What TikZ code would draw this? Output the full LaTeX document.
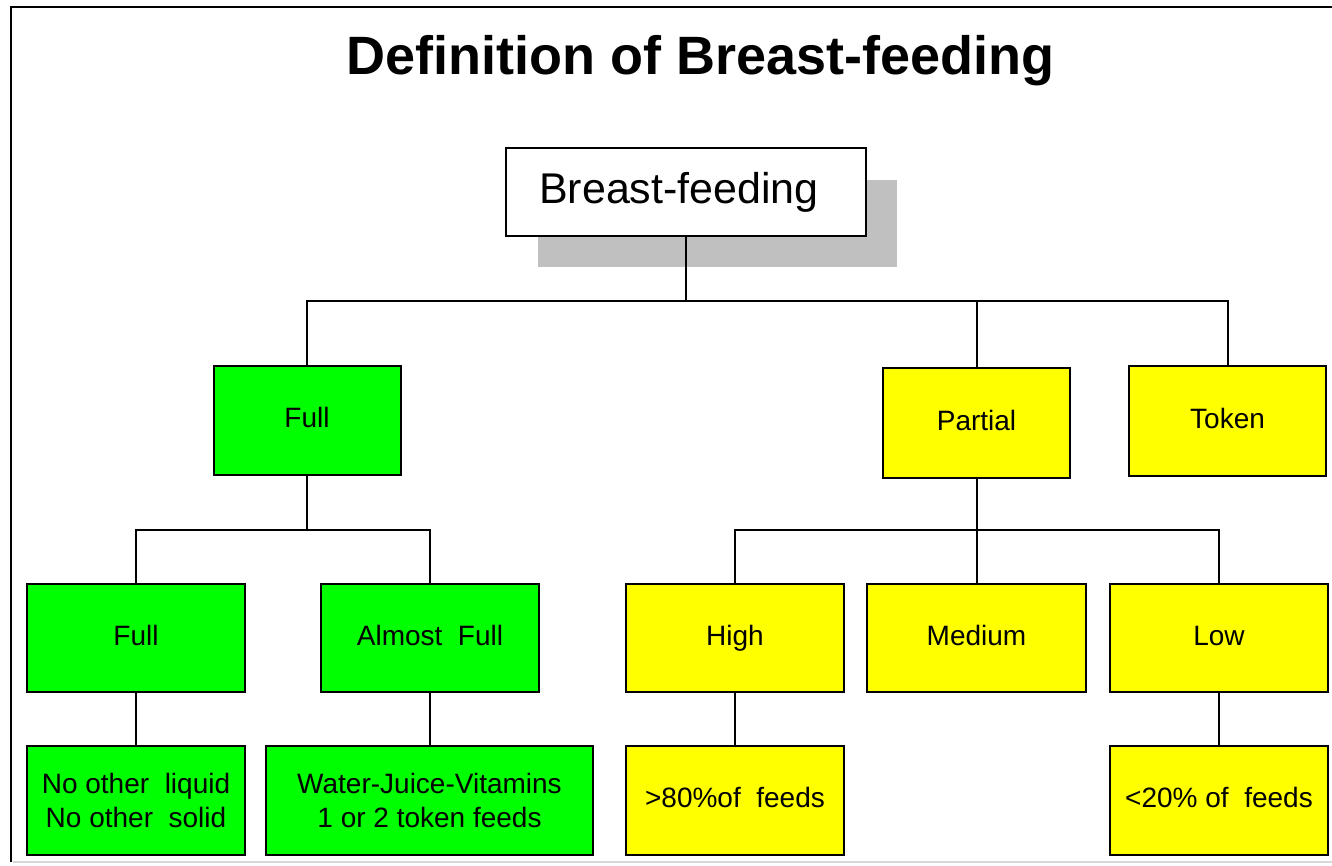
\documentclass[tikz,border=0pt]{standalone}
\usepackage{fontspec}
\setmainfont{Liberation Sans}
\definecolor{shadowgray}{HTML}{C0C0C0}
\definecolor{framegray}{HTML}{D8D8D8}
\definecolor{boxgreen}{HTML}{00FF00}
\definecolor{boxyellow}{HTML}{FFFF00}
\begin{document}
\begin{tikzpicture}[x=1pt,y=-1pt,
  box/.style={draw=black, line width=2pt, inner sep=0pt, align=center,
    text height=20pt, text depth=6pt,
    font=\fontsize{28}{34}\selectfont},
  twoline/.style={text height={}, text depth={}},
  greenbox/.style={box, fill=boxgreen},
  yellowbox/.style={box, fill=boxyellow},
  lvltwo/.style={minimum width=187pt, minimum height=109pt},
  lvlbox/.style={minimum width=218pt, minimum height=108pt},
  conn/.style={line width=2pt}]
\useasboundingbox (0,0) rectangle (1332,865);
% frame
\draw[line width=2.5pt] (11,862) -- (11,7) -- (1332,7);
\draw[framegray, line width=1.5pt] (12.5,862) -- (1332,862);
% title
\node[anchor=base, font=\bfseries\fontsize{54}{60}\selectfont] (title) at (700.5,74) {Definition of Breast-feeding};
% root with shadow
\fill[shadowgray] (538,180) rectangle (897,267);
\node[draw=black, line width=2pt, inner sep=0pt, fill=white, minimum width=360pt, minimum height=88pt,
  font=\fontsize{43}{50}\selectfont] (root) at (686,192) {Breast-feeding\kern14pt};
% level 2
\node[greenbox, lvltwo] (full) at (307,420.5) {Full};
\node[yellowbox, lvltwo, minimum height=110pt] (partial) at (976.5,423) {Partial};
\node[yellowbox, minimum width=197pt, minimum height=110pt] (token) at (1227.5,421) {Token};
% level 3
\node[greenbox, lvlbox] (full3) at (136,638) {Full};
\node[greenbox, lvlbox] (almost) at (430,638) {Almost\ \ Full};
\node[yellowbox, lvlbox] (high) at (735,638) {High};
\node[yellowbox, lvlbox, minimum width=219pt] (medium) at (976.5,638) {Medium};
\node[yellowbox, lvlbox] (low) at (1219,638) {Low};
% level 4
\node[greenbox, twoline, lvlbox, minimum height=109pt] (noother) at (136,800.5) {No\ other\ \ liquid\\No\ other\ \ solid};
\node[greenbox, twoline, minimum width=327pt, minimum height=109pt] (water) at (429.5,800.5) {Water-Juice-Vitamins\\1 or 2 token feeds};
\node[yellowbox, lvlbox, minimum height=109pt] (gt) at (735,800.5) {>80\%of\ \ feeds};
\node[yellowbox, lvlbox, minimum height=109pt] (lt) at (1219,800.5) {<20\%\ of\ \ feeds};
% connectors
\draw[conn] (root.south) -- ++(0,64) coordinate (bus1);
\draw[conn] (full.north) |- (bus1) -| (token.north);
\draw[conn] (partial.north) -- (partial.north |- bus1);
\draw[conn] (full.south) -- ++(0,54) coordinate (bus2);
\draw[conn] (full3.north) |- (bus2) -| (almost.north);
\draw[conn] (partial.south) -- ++(0,51) coordinate (bus3);
\draw[conn] (high.north) |- (bus3) -| (low.north);
\draw[conn] (medium.north) -- (medium.north |- bus3);
\draw[conn] (full3.south) -- (noother.north);
\draw[conn] (almost.south) -- (almost.south |- water.north);
\draw[conn] (high.south) -- (gt.north);
\draw[conn] (low.south) -- (lt.north);
\end{tikzpicture}
\end{document}
